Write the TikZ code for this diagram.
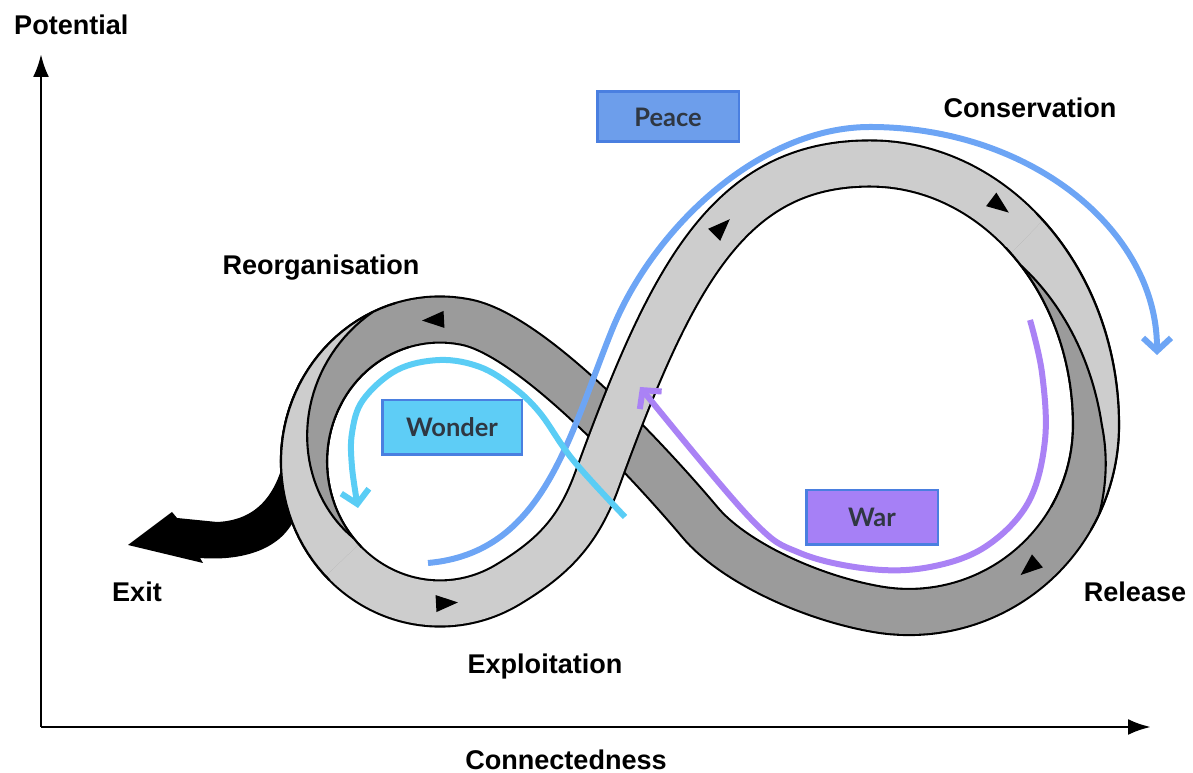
\documentclass[tikz,border=0pt]{standalone}
\usepackage{fontspec}
\setmainfont{Liberation Sans}
\newfontfamily\boxfont{Lato}
\usetikzlibrary{arrows.meta}

\definecolor{ribbonlight}{HTML}{CDCDCD}
\definecolor{ribbondark}{HTML}{9B9B9B}
\definecolor{boxedge}{HTML}{4A7FE0}
\definecolor{boxtext}{HTML}{2F3742}
\definecolor{peacefill}{HTML}{6D9EEB}
\definecolor{wonderfill}{HTML}{5ECDF6}
\definecolor{warfill}{HTML}{A680F6}
\definecolor{peaceline}{HTML}{6DA5F5}
\definecolor{wonderline}{HTML}{5ACDF5}
\definecolor{warline}{HTML}{AA82F5}

\begin{document}
\begin{tikzpicture}[x=0.02cm, y=0.02cm,
    band/.style={line width=1.2pt, double distance=0.88cm},
    edge/.style={line width=1.2pt},
    phase/.style={font=\fontsize{15.4}{18}\selectfont\bfseries},
    stagebox/.style={draw=boxedge, line width=1.7pt, minimum width=#1, minimum height=1.05cm,
      inner sep=0pt, text=boxtext, font=\boxfont\fontsize{14.5}{17}\selectfont\bfseries},
    flow/.style={line width=0.12cm, -{Straight Barb[length=0.26cm,width=0.56cm]}},
    axis/.style={line width=1.7pt, -{Latex[length=0.46cm,width=0.32cm]}}]

  \useasboundingbox (0,0) rectangle (1193,773);

  % exit swoosh, behind the ribbon
  \fill (302,345) -- (288,334) .. controls (281,285) and (262,253) .. (217,251)
    -- (177,255) -- (172,261) -- (128,228) -- (203,210) -- (200,215)
    .. controls (240,212) and (280,222) .. (295,255) -- cycle;

  % back of the ribbon: release -> reorganisation
  \draw[band, double=ribbondark] (1096,348) arc[start angle=0, end angle=-100, radius=187]
    .. controls (807.5,176) and (732.1,212.4) .. (700,250.7)
    .. controls (667.9,289) and (535,440) .. (463.6,451.3)
    arc[start angle=80, end angle=200, x radius=136, y radius=142];

  % front of the ribbon: exploitation -> conservation
  \draw[band, double=ribbonlight] (322.2,382.5)
    arc[start angle=150, end angle=300, x radius=136, y radius=142]
    to[out=31, in=250] (597,293)
    .. controls (672.2,499.7) and (730,609.5) .. (870,609.5)
    arc[start angle=90, end angle=0, x radius=226, y radius=261.5];

  % twist of the small loop
  \fill[ribbondark] plot[domain=108:224, samples=40] ({440+159*cos(\x)},{311.5+165*sin(\x)})
    -- plot[domain=224:108, samples=40] ({440+113*cos(\x)},{311.5+119*sin(\x)}) -- cycle;
  \fill[ribbonlight] plot[domain=115:224, samples=40] ({440+159*cos(\x)},{311.5+165*sin(\x)})
    -- plot[domain=224:115, samples=40]
       ({440+(159-46*min(1,(\x-115)/105))*cos(\x)},{311.5+(165-46*min(1,(\x-115)/105))*sin(\x)})
    -- cycle;
  \draw[edge] plot[domain=106:226, samples=40] ({440+159*cos(\x)},{311.5+165*sin(\x)});
  \draw[edge] plot[domain=106:226, samples=40] ({440+113*cos(\x)},{311.5+119*sin(\x)});
  \draw[edge] plot[domain=115:220, samples=40]
    ({440+(159-46*(\x-115)/105)*cos(\x)},{311.5+(165-46*(\x-115)/105)*sin(\x)});

  % twist of the large loop
  \fill[ribbondark] plot[domain=46:0, samples=30] ({870+249*cos(\x)},{348+284.5*sin(\x)})
    -- plot[domain=0:-28, samples=20] ({909+210*cos(\x)},{348+210*sin(\x)})
    -- plot[domain=-28:0, samples=20] ({909+164*cos(\x)},{348+164*sin(\x)})
    -- plot[domain=0:46, samples=30] ({870+203*cos(\x)},{348+238.5*sin(\x)}) -- cycle;
  \fill[ribbonlight] plot[domain=46:0, samples=30] ({870+249*cos(\x)},{348+284.5*sin(\x)})
    -- plot[domain=0:-25, samples=20] ({909+210*cos(\x)},{348+210*sin(\x)})
    -- plot[domain=-25:0, samples=20] ({909+(210-46*(\x+25)/67)*cos(\x)},{348+(210-46*(\x+25)/67)*sin(\x)})
    -- plot[domain=0:46, samples=30]
       ({870+(249-46*min(1,(\x+25)/67))*cos(\x)},{348+(284.5-46*min(1,(\x+25)/67))*sin(\x)})
    -- cycle;
  \draw[edge] plot[domain=48:0, samples=30] ({870+249*cos(\x)},{348+284.5*sin(\x)})
    -- plot[domain=0:-30, samples=20] ({909+210*cos(\x)},{348+210*sin(\x)});
  \draw[edge] plot[domain=48:0, samples=30] ({870+203*cos(\x)},{348+238.5*sin(\x)})
    -- plot[domain=0:-30, samples=20] ({909+164*cos(\x)},{348+164*sin(\x)});
  \draw[edge] plot[domain=42:0, samples=30]
       ({870+(249-46*min(1,(\x+25)/67))*cos(\x)},{348+(284.5-46*min(1,(\x+25)/67))*sin(\x)})
    -- plot[domain=0:-25, samples=20] ({909+(210-46*(\x+25)/67)*cos(\x)},{348+(210-46*(\x+25)/67)*sin(\x)});

  % direction marks on the ribbon
  \foreach \x/\y/\a in {433/453/183, 447/170/3, 722/546/45, 1000/567/-37, 1029/205/220} {
    \fill[shift={(\x,\y)}, rotate=\a] (11,0) -- (-11,8.5) -- (-11,-8.5) -- cycle;
  }

  % axes
  \coordinate (origin) at (41,46);
  \coordinate (ytip) at (41,719);
  \coordinate (xtip) at (1151,46);
  \draw[axis] (origin) -- (ytip);
  \draw[axis] (origin) -- (xtip);

  % coloured flows
  \draw[flow, peaceline] (428,210) to[out=5, in=248] (612,443)
    .. controls (653.2,545) and (760,646) .. (870,646)
    arc[start angle=90, end angle=0, x radius=287, y radius=228];
  \draw[flow, wonderline] plot[smooth, tension=0.6] coordinates {(625,256) (573,313) (540,360)
    (513,386) (480,406) (440,413) (397,403) (363,373) (352,340) (352,306) (358,265)};
  \draw[flow, warline] plot[smooth, tension=0.6] coordinates {(1030,453) (1042,400) (1045,333)
    (1028,270) (985,226) (930,206) (870,204) (800,220) (750,255) (640,386)};

  % stage boxes
  \node[stagebox=2.84cm, fill=peacefill, minimum height=1cm] (peace) at (668,656) {Peace};
  \node[stagebox=2.8cm, fill=wonderfill, minimum height=1.1cm] (wonder) at (452,345.5) {Wonder};
  \node[stagebox=2.64cm, fill=warfill, minimum height=1.1cm] (war) at (872,255.5) {War};

  % phase labels
  \node[phase, anchor=west] (potential) at (8,748) {Potential};
  \node[phase] (connectedness) at (566,13) {Connectedness};
  \node[phase] (reorg) at (321,505) {Reorganisation};
  \node[phase] (conservation) at (1030,665) {Conservation};
  \node[phase] (exit) at (137,181) {Exit};
  \node[phase] (exploitation) at (545,106) {Exploitation};
  \node[phase] (release) at (1135,181) {Release};

\end{tikzpicture}
\end{document}
